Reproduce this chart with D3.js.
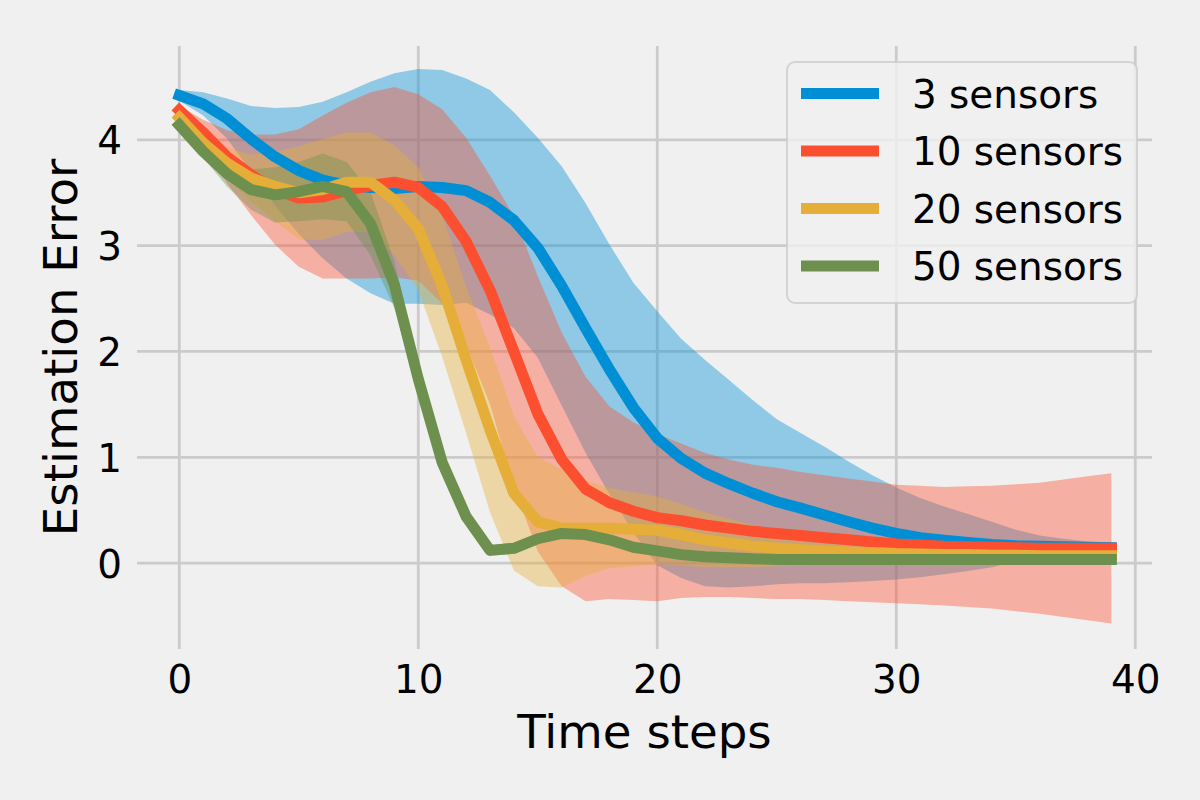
<!DOCTYPE html>
<html>
<head>
<meta charset="utf-8">
<script src="https://cdn.jsdelivr.net/npm/d3@7"></script>
<style>
    html, body { margin: 0; padding: 0; background: #f0f0f0; }
    svg { display: block; font-family: "DejaVu Sans", sans-serif; }
</style>
</head>
<body>
<div id="chart"></div>
<script>
// mean estimation error per time step
const blueMean = [4.42, 4.34, 4.20, 4.01, 3.84, 3.71, 3.62, 3.57, 3.55, 3.54,
    3.56, 3.55, 3.52, 3.41, 3.24, 2.98, 2.62, 2.22, 1.83, 1.47,
    1.18, 0.99, 0.85, 0.75, 0.66, 0.58, 0.52, 0.455, 0.39, 0.33,
    0.28, 0.24, 0.215, 0.195, 0.175, 0.165, 0.16, 0.155, 0.15, 0.145]
const redMean = [4.28, 4.07, 3.84, 3.67, 3.53, 3.45, 3.46, 3.52, 3.57, 3.60,
    3.55, 3.37, 3.04, 2.58, 2.00, 1.41, 0.98, 0.70, 0.57, 0.49,
    0.43, 0.40, 0.36, 0.33, 0.30, 0.28, 0.26, 0.24, 0.22, 0.20,
    0.18, 0.17, 0.16, 0.155, 0.15, 0.145, 0.14, 0.14, 0.14, 0.14]
const yellowMean = [4.21, 3.97, 3.78, 3.64, 3.56, 3.50, 3.53, 3.60, 3.60, 3.43,
    3.16, 2.62, 1.92, 1.26, 0.66, 0.39, 0.33, 0.33, 0.33, 0.32,
    0.31, 0.27, 0.22, 0.19, 0.16, 0.14, 0.125, 0.115, 0.105, 0.10,
    0.09, 0.085, 0.08, 0.08, 0.075, 0.075, 0.07, 0.07, 0.07, 0.07]
const greenMean = [4.14, 3.89, 3.68, 3.53, 3.48, 3.51, 3.56, 3.51, 3.21, 2.63,
    1.74, 0.95, 0.44, 0.12, 0.14, 0.23, 0.28, 0.27, 0.22, 0.15,
    0.115, 0.08, 0.06, 0.05, 0.04, 0.035, 0.035, 0.035, 0.035, 0.035,
    0.035, 0.035, 0.035, 0.035, 0.035, 0.035, 0.035, 0.035, 0.035, 0.035]

// half width of each shaded band (one standard deviation)
const blueStd = [0.05, 0.11, 0.19, 0.31, 0.46, 0.60, 0.74, 0.88, 1.00, 1.09,
    1.11, 1.11, 1.06, 1.06, 1.02, 1.04, 1.13, 1.18, 1.18, 1.18,
    1.20, 1.13, 1.07, 0.98, 0.88, 0.78, 0.71, 0.645, 0.57, 0.50,
    0.435, 0.375, 0.32, 0.27, 0.215, 0.15, 0.10, 0.075, 0.055, 0.045]
const redStd = [0.04, 0.12, 0.25, 0.38, 0.52, 0.65, 0.77, 0.83, 0.88, 0.90,
    0.88, 0.92, 0.98, 1.08, 1.28, 1.30, 1.20, 1.06, 0.91, 0.84,
    0.79, 0.73, 0.68, 0.65, 0.63, 0.62, 0.60, 0.59, 0.58, 0.57,
    0.56, 0.56, 0.56, 0.57, 0.58, 0.60, 0.62, 0.65, 0.68, 0.71]
const yellowStd = [0.02, 0.08, 0.15, 0.22, 0.33, 0.44, 0.48, 0.47, 0.47, 0.52,
    0.58, 0.67, 0.69, 0.78, 0.73, 0.61, 0.56, 0.45, 0.38, 0.35,
    0.32, 0.29, 0.26, 0.23, 0.20, 0.17, 0.15, 0.13, 0.11, 0.10,
    0.09, 0.08, 0.075, 0.07, 0.065, 0.06, 0.06, 0.06, 0.06, 0.06]
const greenStd = [0.02, 0.06, 0.12, 0.19, 0.26, 0.28, 0.31, 0.28, 0.30, 0.22,
    0.14, 0.09, 0.06, 0.05, 0.05, 0.05, 0.04, 0.04, 0.04, 0.03,
    0.03, 0.03, 0.02, 0.02, 0.02, 0.02, 0.02, 0.02, 0.02, 0.02,
    0.02, 0.02, 0.02, 0.02, 0.02, 0.02, 0.02, 0.02, 0.02, 0.02]

const labels = ['3 sensors', '10 sensors', '20 sensors', '50 sensors']
const colors = ['#008fd5', '#fc4f30', '#e5ae38', '#6d904f']
const xTicks = [0, 10, 20, 30, 40]
const yTicks = [0, 1, 2, 3, 4]

const series = labels.map((label, i) => ({
    label,
    color: colors[i],
    mean: [blueMean, redMean, yellowMean, greenMean][i],
    std: [blueStd, redStd, yellowStd, greenStd][i]
}))

const width = 1200
const height = 800
const margin = ({ top: 46, right: 48, bottom: 151, left: 137 })

const svg = d3.select('#chart')
    .append('svg')
    .attr('width', width)
    .attr('height', height)

svg.append('rect')
    .attr('width', width)
    .attr('height', height)
    .attr('fill', '#f0f0f0')

const x = d3.scaleLinear()
    .domain([-1.77, 40.7])
    .range([margin.left, width - margin.right])
const y = d3.scaleLinear()
    .domain([-0.812, 4.887])
    .range([height - margin.bottom, margin.top])

// grid
const grid = svg.append('g')
    .attr('stroke', '#cbcbcb')
    .attr('stroke-width', 2.8)
grid.selectAll('.vgrid')
    .data(xTicks)
    .join('line')
    .attr('class', 'vgrid')
    .attr('x1', d => x(d))
    .attr('x2', d => x(d))
    .attr('y1', margin.top)
    .attr('y2', height - margin.bottom)
grid.selectAll('.hgrid')
    .data(yTicks)
    .join('line')
    .attr('class', 'hgrid')
    .attr('x1', margin.left)
    .attr('x2', width - margin.right)
    .attr('y1', d => y(d))
    .attr('y2', d => y(d))

// tick labels
const xAxis = g => g
    .attr('transform', `translate(0,${height - margin.bottom + 44})`)
    .call(d3.axisBottom(x).tickValues(xTicks).tickFormat(d3.format('d')).tickSize(0).tickPadding(0))
    .call(g => g.select('.domain').remove())
    .call(g => g.selectAll('.tick text').attr('y', 0).attr('dy', null))
const yAxis = g => g
    .attr('transform', `translate(${margin.left - 15},0)`)
    .call(d3.axisLeft(y).tickValues(yTicks).tickFormat(d3.format('d')).tickSize(0).tickPadding(0))
    .call(g => g.select('.domain').remove())
    .call(g => g.selectAll('.tick text').attr('dy', '0.36em'))

svg.append('g').call(xAxis)
svg.append('g').call(yAxis)
svg.selectAll('.tick text')
    .attr('font-family', '"DejaVu Sans", sans-serif')
    .attr('font-size', 38.9)
    .attr('fill', '#000')

// bands below, then lines
const area = d3.area()
    .x((d, i) => x(i))
    .y0(d => y(d.m - d.s))
    .y1(d => y(d.m + d.s))
const line = d3.line()
    .x((d, i) => x(i))
    .y(d => y(d))

svg.append('g')
    .selectAll('path')
    .data(series)
    .join('path')
    .attr('fill', d => d.color)
    .attr('fill-opacity', 0.4)
    .attr('d', d => area(d.mean.map((m, i) => ({ m, s: d.std[i] }))))

svg.append('g')
    .selectAll('path')
    .data(series)
    .join('path')
    .attr('fill', 'none')
    .attr('stroke', d => d.color)
    .attr('stroke-width', 11)
    .attr('stroke-linejoin', 'round')
    .attr('stroke-linecap', 'square')
    .attr('d', d => line(d.mean))

// axis labels
svg.append('text')
    .attr('x', (margin.left + width - margin.right) / 2)
    .attr('y', 748)
    .attr('text-anchor', 'middle')
    .attr('font-size', 46.7)
    .text('Time steps')
svg.append('text')
    .attr('transform', `translate(77,${(margin.top + height - margin.bottom) / 2}) rotate(-90)`)
    .attr('text-anchor', 'middle')
    .attr('font-size', 46.7)
    .text('Estimation Error')

// legend
const legend = svg.append('g')
    .attr('transform', 'translate(787,62)')
legend.append('rect')
    .attr('width', 350)
    .attr('height', 241)
    .attr('rx', 8)
    .attr('fill', '#f0f0f0')
    .attr('fill-opacity', 0.8)
    .attr('stroke', '#cccccc')
    .attr('stroke-opacity', 0.8)
    .attr('stroke-width', 2)
const rows = legend.selectAll('.row')
    .data(series)
    .join('g')
    .attr('transform', (d, i) => `translate(0,${31.5 + i * 57.5})`)
rows.append('line')
    .attr('x1', 14)
    .attr('x2', 92)
    .attr('stroke', d => d.color)
    .attr('stroke-width', 11)
rows.append('text')
    .attr('x', 125)
    .attr('y', 14.2)
    .attr('font-size', 38.9)
    .attr('fill', '#000')
    .text(d => d.label)
</script>
</body>
</html>
